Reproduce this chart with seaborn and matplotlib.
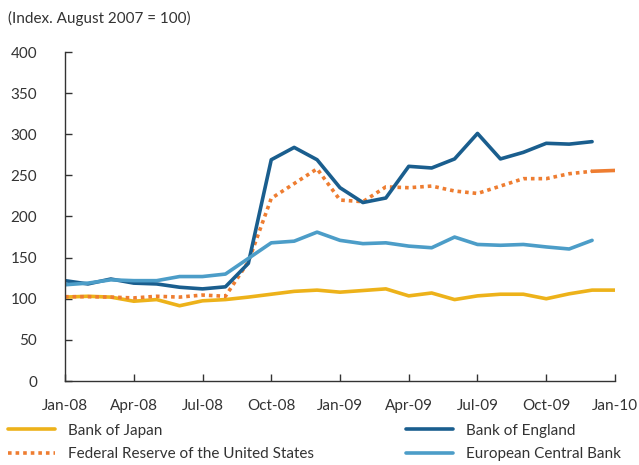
import pandas as pd
import matplotlib
matplotlib.use("Agg")
import matplotlib.pyplot as plt
import seaborn as sns

# monthly observations, Jan-08 .. Jan-10
months = pd.date_range("2008-01-01", "2010-01-01", freq="MS")

boj = [102, 103, 102, 97, 99, 91.5, 97.5, 99, 102, 105.5, 109, 110.5,
       108, 110, 112, 103.5, 107, 99, 103.5, 105.5, 105.5, 100, 106, 110.5, 110.5]
fed = [102.5, 102.5, 102, 101, 103, 102, 104.5, 103, 145, 222, 240, 258,
       220, 218, 236, 235, 237, 231, 228, 237, 246, 246, 252, 255, 256]
boe = [122, 118, 124, 119, 118, 114, 112, 114.5, 143, 269, 284, 269,
       235, 217, 222.5, 261, 259, 270, 301, 270, 278, 289, 288, 291]
ecb = [117, 119, 123, 122, 122, 127, 127, 130, 149, 168, 170, 181,
       171, 167, 168, 164, 162, 175, 166, 165, 166, 163, 160.5, 171]

tick_labels = ["Jan-08", "Apr-08", "Jul-08", "Oct-08", "Jan-09",
               "Apr-09", "Jul-09", "Oct-09", "Jan-10"]

c_boj = "#EDB21A"
c_fed = "#EE7D31"
c_boe = "#1A5E8E"
c_ecb = "#4C9DC8"

sns.set_style("ticks")
plt.rcParams["font.family"] = ["Lato", "DejaVu Sans"]

fig = plt.figure(figsize=(6.39, 4.65), dpi=100)
ax = fig.add_axes([65 / 639, 84 / 465, 550 / 639, 329 / 465])

x = list(range(len(months)))
lw = 2.6
sns.lineplot(x=x, y=boj, color=c_boj, lw=lw, ax=ax, label="Bank of Japan")
sns.lineplot(x=x[:-1], y=fed[:-1], color=c_fed, lw=lw, ax=ax,
             label="Federal Reserve of the United States", linestyle=(0, (1, 1.1)))
sns.lineplot(x=x[-2:], y=fed[-2:], color=c_fed, lw=lw, ax=ax)
sns.lineplot(x=x[:len(boe)], y=boe, color=c_boe, lw=lw, ax=ax, label="Bank of England")
sns.lineplot(x=x[:len(ecb)], y=ecb, color=c_ecb, lw=lw, ax=ax, label="European Central Bank")

ax.set_xlim(0, 24)
ax.set_ylim(0, 400)
ax.set_xticks(range(0, 25, 3))
ax.set_xticklabels(tick_labels)
ax.set_yticks(range(0, 401, 50))
ax.tick_params(direction="in", length=5, width=1, color="#333333",
               labelsize=11, labelcolor="#333333")
ax.tick_params(axis="x", pad=13)
ax.tick_params(axis="y", pad=20)
for s in ["top", "right"]:
    ax.spines[s].set_visible(False)
for s in ["left", "bottom"]:
    ax.spines[s].set_linewidth(1)
    ax.spines[s].set_color("#333333")
ax.set_xlabel("")
ax.set_ylabel("")

handles, labels = ax.get_legend_handles_labels()
ax.legend(handles, labels,
          ncol=2, loc="upper left", bbox_to_anchor=(-57 / 550, -0.13),
          frameon=False, fontsize=11, handlelength=3.1, handletextpad=0.85,
          columnspacing=6.0, labelspacing=0.62, borderaxespad=0, borderpad=0,
          labelcolor="#333333")

fig.text(8 / 639, 1 - 18 / 465, "(Index. August 2007 = 100)", fontsize=11,
         color="#333333", va="center", ha="left")

fig.savefig("out.png", dpi=100)
